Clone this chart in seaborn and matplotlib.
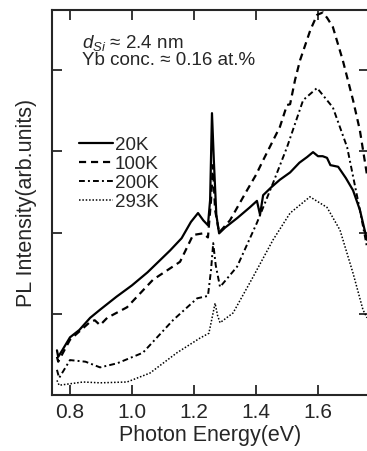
import matplotlib
matplotlib.use("Agg")
import matplotlib.pyplot as plt
import seaborn as sns
import pandas as pd

x_20k = [0.758, 0.762, 0.775, 0.8, 0.83, 0.865, 0.897, 0.95, 1.0, 1.05, 1.123, 1.16, 1.19, 1.213, 1.23, 1.245,
         1.252, 1.258, 1.264, 1.272, 1.281, 1.30, 1.34, 1.38, 1.403, 1.413, 1.423, 1.45, 1.477, 1.51, 1.54,
         1.565, 1.584, 1.60, 1.615, 1.629, 1.64, 1.665, 1.69, 1.713, 1.735, 1.758]
y_20k = [0.55, 0.47, 0.55, 0.71, 0.80, 0.95, 1.05, 1.21, 1.35, 1.51, 1.78, 1.93, 2.13, 2.24, 2.15, 2.09,
         2.4, 3.47, 2.89, 2.22, 1.99, 2.06, 2.18, 2.31, 2.39, 2.22, 2.46, 2.56, 2.65, 2.74, 2.86,
         2.93, 2.99, 2.94, 2.94, 2.92, 2.83, 2.81, 2.67, 2.52, 2.28, 1.91]

x_100k = [0.758, 0.762, 0.8, 0.865, 0.88, 0.897, 0.92, 0.984, 1.068, 1.155, 1.197, 1.229, 1.245, 1.255, 1.261,
          1.268, 1.281, 1.316, 1.371, 1.40, 1.423, 1.477, 1.5, 1.51, 1.526, 1.542, 1.575, 1.597, 1.616, 1.63,
          1.648, 1.68, 1.713, 1.735, 1.758]
y_100k = [0.47, 0.41, 0.68, 0.90, 0.92, 0.86, 0.95, 1.08, 1.42, 1.64, 1.97, 1.99, 1.94, 2.4, 2.83,
          2.28, 2.0, 2.15, 2.52, 2.71, 2.89, 3.3, 3.57, 3.58, 3.88, 4.12, 4.49, 4.68, 4.71, 4.64,
          4.53, 4.12, 3.63, 3.26, 2.71]

x_200k = [0.758, 0.765, 0.8, 0.85, 0.897, 0.952, 1.035, 1.132, 1.21, 1.245, 1.255, 1.262, 1.27, 1.284, 1.339,
          1.403, 1.455, 1.5, 1.552, 1.597, 1.648, 1.694, 1.735, 1.758]
y_200k = [0.31, 0.21, 0.43, 0.41, 0.34, 0.39, 0.52, 0.92, 1.19, 1.22, 1.54, 1.87, 1.6, 1.33, 1.58,
          2.12, 2.61, 3.05, 3.63, 3.78, 3.54, 3.05, 2.28, 1.82]

x_293k = [0.758, 0.765, 0.842, 0.897, 0.984, 1.058, 1.145, 1.219, 1.248, 1.26, 1.268, 1.276, 1.284, 1.326,
          1.39, 1.455, 1.51, 1.574, 1.629, 1.671, 1.713, 1.745, 1.758]
y_293k = [0.18, 0.12, 0.16, 0.15, 0.16, 0.27, 0.52, 0.70, 0.76, 0.98, 1.13, 0.98, 0.89, 1.01,
          1.45, 1.91, 2.24, 2.44, 2.31, 2.03, 1.50, 1.05, 0.95]

labels = ["20K", "100K", "200K", "293K"]
x_ticks = [0.8, 1.0, 1.2, 1.4, 1.6]
x_tick_labels = ["0.8", "1.0", "1.2", "1.4", "1.6"]
y_ticks = [1, 2, 3, 4]

sns.set_style("ticks")
plt.rcParams['font.family'] = ['Liberation Sans', 'DejaVu Sans']
plt.rcParams['mathtext.fontset'] = 'custom'
plt.rcParams['mathtext.it'] = 'Liberation Sans:italic'
plt.rcParams['mathtext.rm'] = 'Liberation Sans'

W, H = 367.0, 451.0
fig = plt.figure(figsize=(3.67, 4.51), dpi=100)
ax = fig.add_axes([52 / W, 56 / H, 317 / W, 385 / H])

series = [(x_20k, y_20k), (x_100k, y_100k), (x_200k, y_200k), (x_293k, y_293k)]
styles = [dict(ls="-", lw=1.6),
          dict(ls=(0, (3.2, 2.2)), lw=1.6),
          dict(ls=(0, (3, 1.6, 1, 1.6)), lw=1.4),
          dict(ls=(0, (1, 1.2)), lw=1.1)]
for (xs, ys), lab, st in zip(series, labels, styles):
    df = pd.DataFrame({"E": xs, "I": ys})
    sns.lineplot(data=df, x="E", y="I", ax=ax, color="black", label=lab,
                 estimator=None, sort=False, linestyle=st["ls"], linewidth=st["lw"])

ax.set_xticks(x_ticks)
ax.set_xticklabels(x_tick_labels)
ax.set_yticks(y_ticks)
ax.set_yticklabels([])
ax.set_xlim(0.742, 1.7645)
ax.set_ylim(0, 4.74)
ax.tick_params(direction="in", length=7, width=1.3, top=True, right=True, labelsize=15, pad=6)
for s in ax.spines.values():
    s.set_linewidth(1.5)
ax.set_xlabel("Photon Energy(eV)", fontsize=15.5, labelpad=2)
ax.set_ylabel("PL Intensity(arb.units)", fontsize=15.5, labelpad=5)

ax.text(0.095, 0.915, r"$d_{Si}$ ≈ 2.4 nm", transform=ax.transAxes, fontsize=13.5, va="center")
ax.text(0.095, 0.868, "Yb conc. ≈ 0.16 at.%", transform=ax.transAxes, fontsize=13.5, va="center")

leg = ax.legend(loc="upper left", bbox_to_anchor=(0.062, 0.69), frameon=False, fontsize=13.5,
                handlelength=1.8, handletextpad=0.1, labelspacing=0.1, borderaxespad=0)

fig.savefig("out.png", dpi=100)
